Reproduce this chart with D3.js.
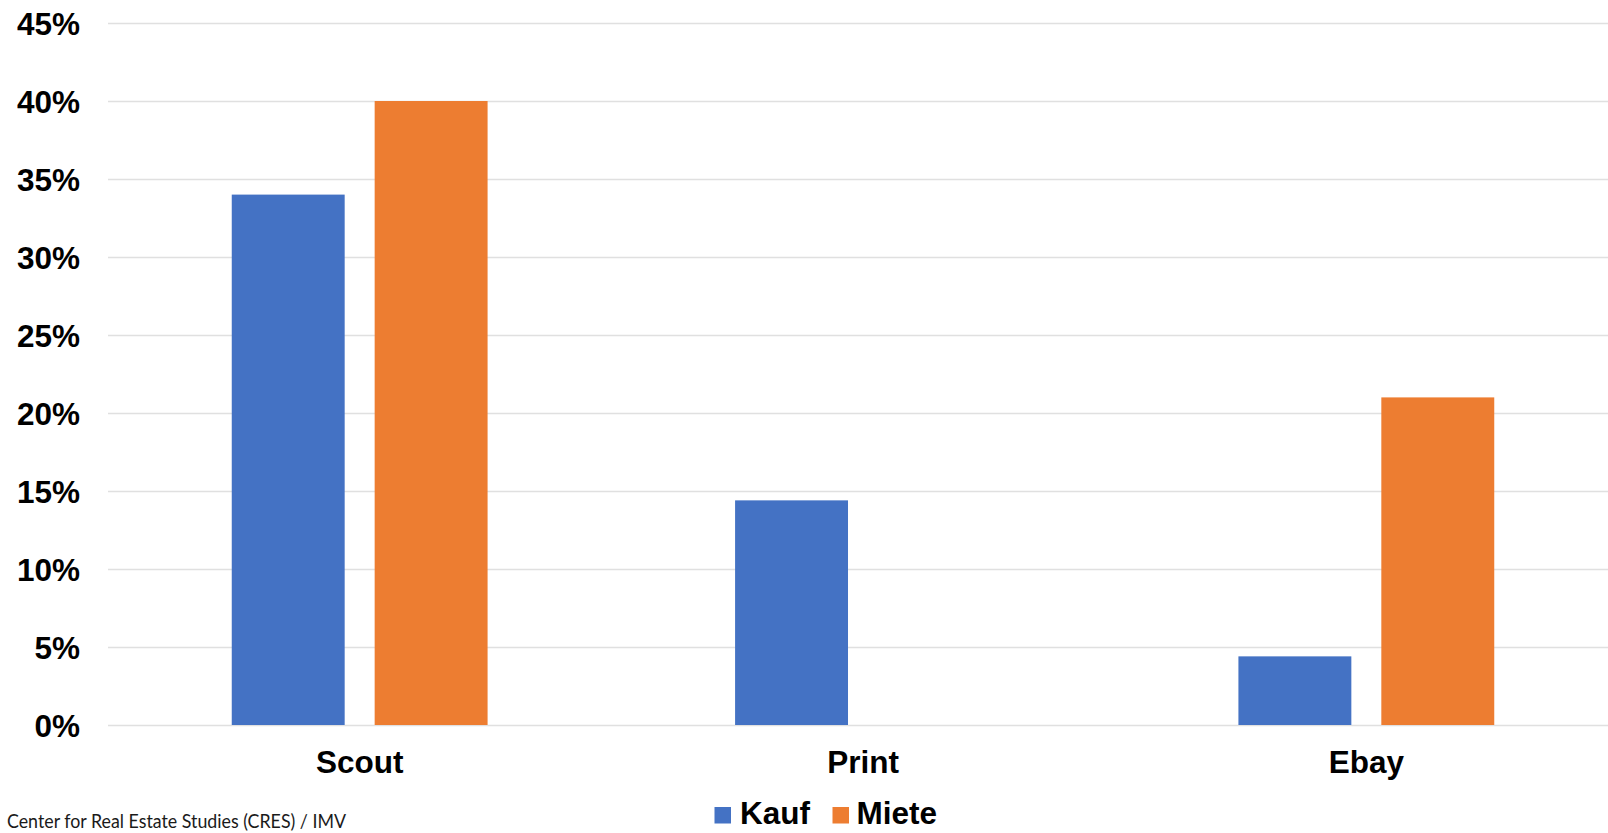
<!DOCTYPE html>
<html>
<head>
<meta charset="utf-8">
<script src="https://cdn.jsdelivr.net/npm/d3@7"></script>
<style>
  html, body { margin: 0; padding: 0; background: #fff; overflow: hidden; }
  svg { display: block; }
</style>
</head>
<body>
<svg id="chart" width="1608" height="833"></svg>
<script>
const categories = ["Scout", "Print", "Ebay"];
const seriesNames = ["Kauf", "Miete"];
const kaufValues = [34, 14.4, 4.4];
const mieteValues = [40, null, 21];
const yTicks = [0, 5, 10, 15, 20, 25, 30, 35, 40, 45];
const colors = ["#4472C4", "#ED7D31"];
const footnote = "Center for Real Estate Studies (CRES) / IMV";

const svg = d3.select("#chart");
const plotLeft = 108, plotRight = 1618, plotTop = 23, plotBottom = 725;
const labelFont = "'Liberation Sans', Arial, sans-serif";
const labelSize = 31.5;

const y = d3.scaleLinear().domain([0, 45]).range([plotBottom, plotTop]);
const x0 = d3.scaleBand().domain(categories).range([plotLeft, plotRight]).paddingInner(0).paddingOuter(0);
const groupPad = 123.75;
const x1 = d3.scaleBand().domain(seriesNames)
  .range([groupPad, x0.bandwidth() - groupPad]).paddingInner(0.2098).paddingOuter(0);

// gridlines
const grid = svg.append("g").attr("class", "grid")
  .attr("transform", `translate(${plotLeft},0)`)
  .call(d3.axisLeft(y).tickValues(yTicks).tickSize(-(plotRight - plotLeft)).tickFormat(""));
grid.select(".domain").remove();
grid.selectAll(".tick line").attr("stroke", "#e0e0e0").attr("stroke-width", 1.5);

// y axis labels
const yAxis = svg.append("g")
  .attr("transform", `translate(80,0)`)
  .call(d3.axisLeft(y).tickValues(yTicks).tickSize(0).tickPadding(0).tickFormat(d => d + "%"));
yAxis.select(".domain").remove();
yAxis.selectAll("text")
  .attr("font-family", labelFont)
  .attr("font-weight", "bold")
  .attr("font-size", labelSize)
  .attr("fill", "#000")
  .attr("dy", "0.36em");

// bars
const data = categories.map((c, i) => ({
  cat: c,
  vals: [
    { s: "Kauf", v: kaufValues[i] },
    { s: "Miete", v: mieteValues[i] }
  ]
}));
const groups = svg.append("g").selectAll("g").data(data).join("g")
  .attr("transform", d => `translate(${x0(d.cat)},0)`);
groups.selectAll("rect").data(d => d.vals.filter(e => e.v !== null)).join("rect")
  .attr("x", d => x1(d.s))
  .attr("width", x1.bandwidth())
  .attr("y", d => y(d.v))
  .attr("height", d => y(0) - y(d.v))
  .attr("fill", d => colors[seriesNames.indexOf(d.s)]);

// x axis labels
const xAxis = svg.append("g")
  .attr("transform", `translate(0,${plotBottom})`)
  .call(d3.axisBottom(x0).tickSize(0).tickPadding(0));
xAxis.select(".domain").remove();
xAxis.selectAll("text")
  .attr("font-family", labelFont)
  .attr("font-weight", "bold")
  .attr("font-size", labelSize)
  .attr("fill", "#000")
  .attr("dy", null)
  .attr("y", 48);

// legend
const legendItems = [
  { name: "Kauf", sx: 714.5, tx: 740 },
  { name: "Miete", sx: 832.5, tx: 856.5 }
];
const legend = svg.append("g");
legendItems.forEach((d, i) => {
  legend.append("rect").attr("x", d.sx).attr("y", 807).attr("width", 16.5).attr("height", 16.5)
    .attr("fill", colors[i]);
  legend.append("text").attr("x", d.tx).attr("y", 824)
    .attr("font-family", labelFont)
    .attr("font-weight", "bold").attr("font-size", labelSize).attr("fill", "#000")
    .text(d.name);
});

// footnote
svg.append("text").attr("x", 7).attr("y", 827.5)
  .attr("font-family", "Lato, 'Open Sans', sans-serif")
  .attr("font-size", 18.5).attr("fill", "#1a1a1a")
  .attr("textLength", 339).attr("lengthAdjust", "spacingAndGlyphs")
  .text(footnote);
</script>
</body>
</html>
